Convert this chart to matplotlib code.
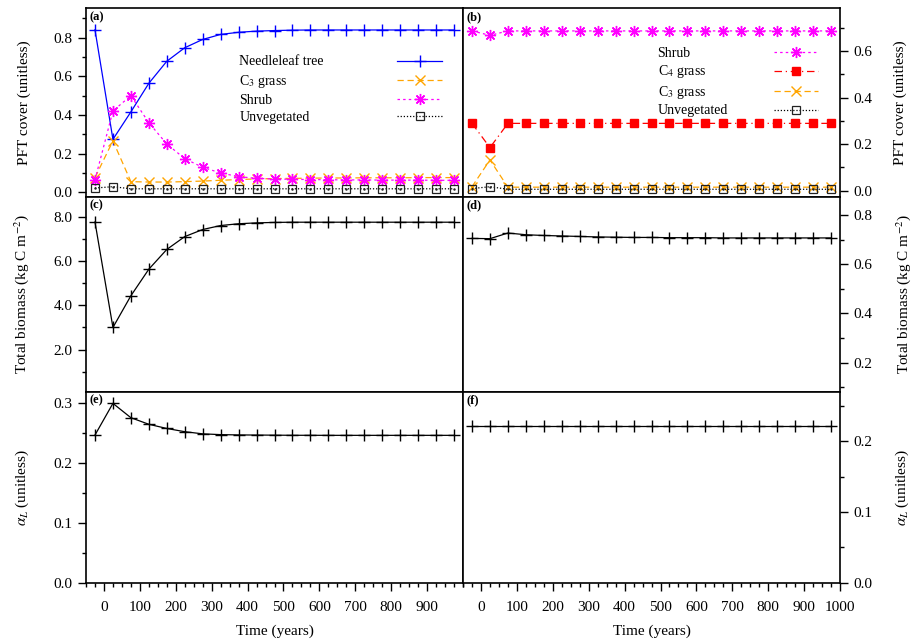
import matplotlib
matplotlib.use('Agg')
import matplotlib.pyplot as plt
from matplotlib.ticker import MultipleLocator, FormatStrFormatter

plt.rcParams['font.family'] = ['Liberation Serif', 'DejaVu Serif']
plt.rcParams['mathtext.fontset'] = 'stix'
plt.rcParams['font.size'] = 11

# time axis (years), same for every panel
years = [-25, 25, 75, 125, 175, 225, 275, 325, 375, 425, 475,
         525, 575, 625, 675, 725, 775, 825, 875, 925, 975]

# (a) PFT cover, left site
needle_a = [0.841, 0.274, 0.416, 0.564, 0.678, 0.748, 0.791, 0.817, 0.828, 0.834, 0.837,
            0.839, 0.840, 0.840, 0.840, 0.840, 0.840, 0.840, 0.840, 0.840, 0.840]
c3_a = [0.076, 0.266, 0.055, 0.053, 0.053, 0.055, 0.058, 0.062, 0.066, 0.069, 0.071,
        0.072, 0.073, 0.074, 0.074, 0.075, 0.075, 0.075, 0.076, 0.076, 0.076]
shrub_a = [0.064, 0.421, 0.500, 0.360, 0.250, 0.174, 0.129, 0.100, 0.081, 0.072, 0.069,
           0.067, 0.066, 0.065, 0.064, 0.064, 0.063, 0.063, 0.063, 0.062, 0.062]
unveg_a = [0.022, 0.029, 0.018, 0.018, 0.018, 0.018, 0.018, 0.018, 0.018, 0.018, 0.018,
           0.018, 0.018, 0.018, 0.018, 0.018, 0.018, 0.018, 0.018, 0.018, 0.018]

# (b) PFT cover, right site
shrub_b = [0.686, 0.667, 0.686, 0.686, 0.686, 0.686, 0.686, 0.686, 0.686, 0.686, 0.686,
           0.686, 0.686, 0.686, 0.686, 0.686, 0.686, 0.686, 0.686, 0.686, 0.686]
c4_b = [0.289, 0.185, 0.289, 0.289, 0.289, 0.289, 0.289, 0.289, 0.289, 0.289, 0.289,
        0.289, 0.289, 0.289, 0.289, 0.289, 0.289, 0.289, 0.289, 0.289, 0.289]
c3_b = [0.017, 0.132, 0.015, 0.015, 0.015, 0.015, 0.015, 0.015, 0.015, 0.015, 0.015,
        0.015, 0.015, 0.015, 0.015, 0.015, 0.015, 0.015, 0.015, 0.015, 0.015]
unveg_b = [0.009, 0.017, 0.006, 0.006, 0.006, 0.006, 0.006, 0.006, 0.006, 0.006, 0.006,
           0.006, 0.006, 0.006, 0.006, 0.006, 0.006, 0.006, 0.006, 0.006, 0.006]

# (c), (d) total biomass
biomass_c = [7.76, 3.00, 4.43, 5.63, 6.52, 7.10, 7.42, 7.60, 7.68, 7.72, 7.74,
             7.75, 7.75, 7.75, 7.75, 7.75, 7.75, 7.75, 7.75, 7.75, 7.75]
biomass_d = [0.706, 0.705, 0.728, 0.721, 0.718, 0.716, 0.714, 0.712, 0.711, 0.710, 0.710,
             0.709, 0.709, 0.709, 0.708, 0.708, 0.708, 0.708, 0.708, 0.708, 0.708]

# (e), (f) alpha_L
alpha_e = [0.247, 0.300, 0.276, 0.265, 0.258, 0.2526, 0.249, 0.2477, 0.2472, 0.2470, 0.2468,
           0.2466, 0.2466, 0.2465, 0.2465, 0.2465, 0.2465, 0.2465, 0.2465, 0.2465, 0.2465]
alpha_f = [0.222, 0.222, 0.222, 0.222, 0.222, 0.222, 0.222, 0.222, 0.222, 0.222, 0.222,
           0.222, 0.222, 0.222, 0.222, 0.222, 0.222, 0.222, 0.222, 0.222, 0.222]

fig = plt.figure(figsize=(9.12, 6.41), dpi=100)

W = 0.4134
lefts = [0.0943, 0.5077]
rows = [(0.6931, 0.2939), (0.3889, 0.3042), (0.0910, 0.2979)]
axs = [[fig.add_axes([l, b, W, h]) for l in lefts] for (b, h) in rows]

for i, row in enumerate(axs):
    for j, ax in enumerate(row):
        ax.set_xlim(-50, 1000)
        for s in ax.spines.values():
            s.set_linewidth(1.2)
        ax.tick_params(which='major', direction='out', length=6, width=1)
        ax.tick_params(which='minor', direction='out', length=3, width=1)
        if j == 1:
            ax.yaxis.tick_right()
            ax.yaxis.set_label_position('right')
            ax.yaxis.set_label_coords(1.142, 0.5)
        else:
            ax.yaxis.set_label_coords(-0.146, 0.5)
        if i < 2:
            ax.tick_params(axis='x', which='both', bottom=False, labelbottom=False)
        else:
            ax.xaxis.set_minor_locator(MultipleLocator(25))
            ax.tick_params(axis='x', which='major', pad=7)
            ax.set_xlabel('Time (years)', labelpad=8)
        ax.text(0.008, 0.985, '(' + 'abcdef'[2 * i + j] + ')', transform=ax.transAxes,
                fontweight='bold', fontsize=9, va='top', ha='left')

axs[2][0].set_xticks([0, 100, 200, 300, 400, 500, 600, 700, 800, 900])
axs[2][1].set_xticks([0, 100, 200, 300, 400, 500, 600, 700, 800, 900, 1000])

lw = 0.9
# (a)
ax = axs[0][0]
ax.plot(years, needle_a, color='#0000ff', lw=lw, marker='+', ms=8, mew=1, label='Needleleaf tree')
ax.plot(years, c3_a, color='#ffa500', lw=lw, ls=(0, (5, 3)), marker='x', ms=6.5, mew=1, label='C$_3$ grass')
ax.plot(years, shrub_a, color='#ff00ff', lw=lw, ls=(0, (2, 2.5)), marker=(8, 2, 0), ms=8, mew=1, label='Shrub')
ax.plot(years, unveg_a, color='black', lw=lw, ls=(0, (1, 1.5)), marker='s', ms=6, mew=0.9,
        mfc='none', mec='#222222', label='Unvegetated')
ax.plot(years, unveg_a, ls='none', marker='.', ms=1.5, color='#222222')
ax.set_ylim(-0.023, 0.952)
ax.yaxis.set_major_locator(MultipleLocator(0.2))
ax.yaxis.set_minor_locator(MultipleLocator(0.1))
ax.yaxis.set_major_formatter(FormatStrFormatter('%.1f'))
ax.set_ylabel('PFT cover (unitless)')

# (b)
ax = axs[0][1]
ax.plot(years, shrub_b, color='#ff00ff', lw=lw, ls=(0, (2, 2.5)), marker=(8, 2, 0), ms=8, mew=1, label='Shrub')
ax.plot(years, c4_b, color='#ff0000', lw=lw, ls=(0, (6, 3, 1, 3)), marker='s', ms=6, label='C$_4$ grass')
ax.plot(years, c3_b, color='#ffa500', lw=lw, ls=(0, (5, 3)), marker='x', ms=6.5, mew=1, label='C$_3$ grass')
ax.plot(years, unveg_b, color='black', lw=lw, ls=(0, (1, 1.5)), marker='s', ms=6, mew=0.9,
        mfc='none', mec='#222222', label='Unvegetated')
ax.plot(years, unveg_b, ls='none', marker='.', ms=1.5, color='#222222')
ax.set_ylim(-0.026, 0.783)
ax.yaxis.set_major_locator(MultipleLocator(0.2))
ax.yaxis.set_minor_locator(MultipleLocator(0.1))
ax.yaxis.set_major_formatter(FormatStrFormatter('%.1f'))
ax.set_ylabel('PFT cover (unitless)')

# (c)
ax = axs[1][0]
ax.plot(years, biomass_c, color='black', lw=lw, marker='+', ms=8, mew=1)
ax.set_ylim(0.1, 8.9)
ax.yaxis.set_major_locator(MultipleLocator(2))
ax.yaxis.set_minor_locator(MultipleLocator(1))
ax.yaxis.set_major_formatter(FormatStrFormatter('%.1f'))
ax.set_ylabel('Total biomass (kg C m$^{-2}$)')

# (d)
ax = axs[1][1]
ax.plot(years, biomass_d, color='black', lw=lw, marker='+', ms=8, mew=1)
ax.set_ylim(0.081, 0.876)
ax.yaxis.set_major_locator(MultipleLocator(0.2))
ax.yaxis.set_minor_locator(MultipleLocator(0.1))
ax.yaxis.set_major_formatter(FormatStrFormatter('%.1f'))
ax.set_ylabel('Total biomass (kg C m$^{-2}$)')

# (e)
ax = axs[2][0]
ax.plot(years, alpha_e, color='black', lw=lw, marker='+', ms=8, mew=1)
ax.set_ylim(0, 0.3195)
ax.yaxis.set_major_locator(MultipleLocator(0.1))
ax.yaxis.set_minor_locator(MultipleLocator(0.05))
ax.yaxis.set_major_formatter(FormatStrFormatter('%.1f'))
ax.set_ylabel(r'$\alpha_L$ (unitless)')

# (f)
ax = axs[2][1]
ax.plot(years, alpha_f, color='black', lw=lw, marker='+', ms=8, mew=1)
ax.set_ylim(0, 0.27)
ax.yaxis.set_major_locator(MultipleLocator(0.1))
ax.yaxis.set_minor_locator(MultipleLocator(0.05))
ax.yaxis.set_major_formatter(FormatStrFormatter('%.1f'))
ax.set_ylabel(r'$\alpha_L$ (unitless)')

# gnuplot-style keys: text left, sample on the right
leg_a = axs[0][0].legend(handles=axs[0][0].get_lines()[:4], loc='upper right',
                         bbox_to_anchor=(0.944, 0.75), frameon=False, markerfirst=False,
                         fontsize=10, handlelength=3.2, labelspacing=0.3,
                         borderpad=0, borderaxespad=0, numpoints=1)
leg_b = axs[0][1].legend(handles=axs[0][1].get_lines()[:4], loc='upper right',
                         bbox_to_anchor=(0.942, 0.795), frameon=False, markerfirst=False,
                         fontsize=10, handlelength=3.2, labelspacing=0.25,
                         borderpad=0, borderaxespad=0, numpoints=1)


def left_align(leg, gap_pt):
    fig.canvas.draw()
    r = fig.canvas.get_renderer()
    items = leg._legend_handle_box.get_children()[0].get_children()
    w = [it.get_children()[0].get_window_extent(r).width * 72.0 / fig.dpi for it in items]
    for it, wi in zip(items, w):
        it.sep = gap_pt + max(w) - wi


left_align(leg_a, 53)
left_align(leg_b, 33)

fig.savefig('out.png', dpi=100)
